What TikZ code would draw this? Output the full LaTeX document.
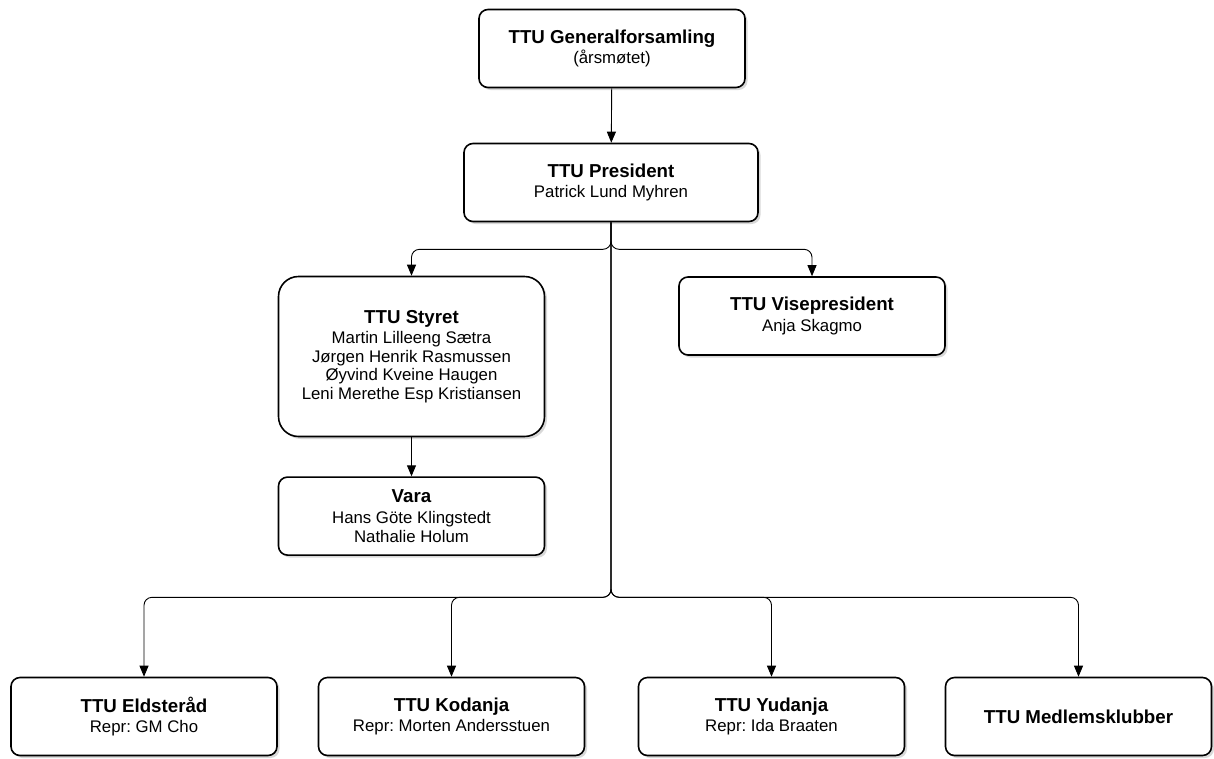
\documentclass[tikz,border=0pt]{standalone}
\usepackage{fontspec}
\setmainfont{Liberation Sans}
\usetikzlibrary{positioning, arrows.meta, shadows}
\frenchspacing

\tikzset{
    unit/.style={draw, line width=1.6pt, rounded corners=9pt, fill=white,
        drop shadow={shadow xshift=2.5pt, shadow yshift=-2.5pt, fill=black!30},
        minimum width=266pt, minimum height=78pt, align=center, inner sep=0pt,
        font=\fontsize{16.8}{18.6}\selectfont},
    link/.style={line width=0.9pt, rounded corners=8pt, -{Triangle[length=11pt, width=9pt]}}
}
\newcommand{\unitname}[1]{{\fontsize{18.7}{20}\selectfont\bfseries #1}\\[2pt]}

\begin{document}
\begin{tikzpicture}[x=1pt, y=-1pt]
    % tikz code goes here
    \useasboundingbox (0,0) rectangle (1214,758);
    \node[unit] (1) at (612,48.5) {\unitname{TTU Generalforsamling}(årsmøtet)};
    \node[unit, minimum width=294pt] (2) at (611,182.5) {\unitname{TTU President}Patrick Lund Myhren};
    \node[unit, minimum height=160pt, rounded corners=20pt] (3) at (411.5,356.5)
        {\unitname{TTU Styret}Martin Lilleeng Sætra\\Jørgen Henrik Rasmussen\\Øyvind Kveine Haugen\\Leni Merethe Esp Kristiansen};
    \node[unit, below=39pt of 3] (4) {\unitname{Vara}Hans Göte Klingstedt\\Nathalie Holum};
    \node[unit] (5) at (812,316) {\unitname{TTU Visepresident}Anja Skagmo};
    \node[unit] (6) at (144,716.5) {\unitname{TTU Eldsteråd}Repr: GM Cho};
    \node[unit] (7) at (451.5,716.5) {\unitname{TTU Kodanja}Repr: Morten Andersstuen};
    \node[unit] (8) at (771.5,716.5) {\unitname{TTU Yudanja}Repr: Ida Braaten};
    \node[unit, font=\fontsize{18.7}{20}\selectfont\bfseries] (9) at (1078.5,716.5) {TTU Medlemsklubber};

    \draw[link] (1) -- (2);
    \draw[link] (2.south) -- ++(0,27) -| (3.north);
    \draw[link] (2.south) -- ++(0,27) -| (5.north);
    \draw[link] (3) -- (4);
    \foreach \n in {6,...,9}
        \draw[link] (2.south) -- ++(0,375) -| (\n.north);
\end{tikzpicture}
\end{document}
